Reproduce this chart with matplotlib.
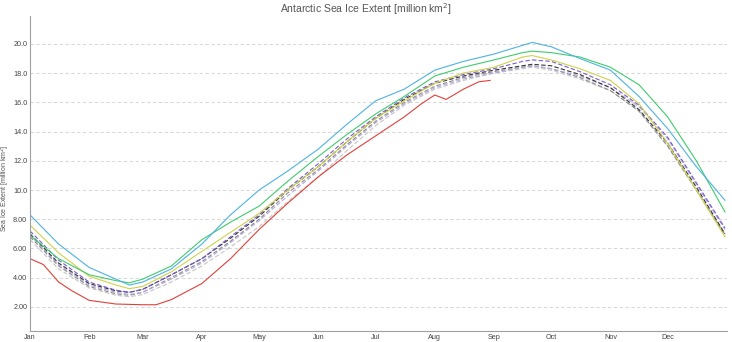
import matplotlib
matplotlib.use("Agg")
import matplotlib.pyplot as plt

# ---- data (day of year, sea ice extent in million km^2) ----
days = [0, 15, 31, 45, 52, 59, 74, 90, 105, 120, 135, 151, 166, 181, 196,
        212, 227, 243, 258, 263, 273, 288, 304, 319, 334, 349, 364]

red_days = [0, 7, 15, 22, 31, 45, 59, 66, 74, 90, 105, 120, 135, 151, 166,
            181, 196, 205, 212, 218, 227, 235, 241]
red_vals = [5.3, 4.9, 3.7, 3.1, 2.45, 2.2, 2.15, 2.15, 2.5, 3.6, 5.3, 7.3,
            9.1, 10.9, 12.4, 13.7, 15.0, 15.9, 16.5, 16.2, 16.9, 17.4, 17.5]

blue_vals = [8.3, 6.3, 4.7, 3.9, 3.5, 3.7, 4.6, 6.3, 8.3, 10.0, 11.3, 12.8,
             14.5, 16.1, 16.9, 18.2, 18.8, 19.3, 19.9, 20.1, 19.8, 19.0,
             18.2, 16.4, 14.2, 11.6, 9.3]
green_vals = [6.9, 5.3, 4.2, 3.8, 3.65, 3.9, 4.8, 6.6, 7.8, 8.9, 10.6, 12.3,
              13.8, 15.2, 16.4, 17.8, 18.4, 18.9, 19.4, 19.5, 19.4, 19.1,
              18.4, 17.2, 15.0, 12.0, 8.5]
yellow_vals = [7.6, 5.7, 4.1, 3.5, 3.25, 3.4, 4.4, 5.8, 7.1, 8.4, 10.0, 11.6,
               13.3, 14.9, 16.1, 17.3, 18.0, 18.4, 19.1, 19.2, 18.9, 18.3,
               17.5, 15.9, 13.2, 10.0, 6.8]
purple_vals = [7.2, 5.2, 3.7, 3.15, 3.0, 3.2, 4.2, 5.3, 6.8, 8.3, 10.1, 11.8,
               13.5, 15.0, 16.3, 17.4, 17.9, 18.3, 18.8, 18.9, 18.8, 18.1,
               17.2, 15.8, 13.6, 10.5, 7.4]
lavender_vals = [6.9, 4.9, 3.5, 3.0, 2.85, 3.0, 3.9, 5.0, 6.4, 7.9, 9.6, 11.3,
                 13.0, 14.6, 15.9, 17.0, 17.6, 18.0, 18.4, 18.5, 18.3, 17.8,
                 17.0, 15.7, 13.5, 10.4, 7.3]
black_vals = [7.0, 5.0, 3.6, 3.1, 3.0, 3.2, 4.2, 5.3, 6.7, 8.2, 10.0, 11.6,
              13.3, 14.9, 16.2, 17.3, 17.8, 18.2, 18.5, 18.6, 18.5, 17.9,
              17.0, 15.5, 13.2, 10.2, 7.0]
gray_vals = [6.8, 4.8, 3.4, 2.9, 2.8, 3.0, 4.0, 5.1, 6.5, 8.0, 9.8, 11.4,
             13.1, 14.7, 16.0, 17.1, 17.7, 18.1, 18.4, 18.5, 18.3, 17.7,
             16.8, 15.4, 13.0, 10.0, 6.9]
lightgray_vals = [6.6, 4.6, 3.3, 2.8, 2.7, 2.85, 3.7, 4.8, 6.1, 7.5, 9.2, 10.9,
                  12.7, 14.4, 15.8, 16.9, 17.5, 18.0, 18.3, 18.4, 18.2, 17.6,
                  16.8, 15.4, 13.0, 10.0, 7.0]

month_starts = [0, 31, 59, 90, 120, 151, 181, 212, 243, 273, 304, 334]
month_labels = ["Jan", "Feb", "Mar", "Apr", "May", "Jun", "Jul", "Aug",
                "Sep", "Oct", "Nov", "Dec"]
y_ticks = [2, 4, 6, 8, 10, 12, 14, 16, 18, 20]
y_tick_labels = ["2.00", "4.00", "6.00", "8.00", "10.0", "12.0", "14.0",
                 "16.0", "18.0", "20.0"]

plt.rcParams['font.family'] = ['Liberation Sans', 'DejaVu Sans']

fig = plt.figure(figsize=(7.32, 3.42), dpi=100)
ax = fig.add_axes([0.041, 0.032, 0.952, 0.921])

lw = 0.8
ax.plot(days, lightgray_vals, color="#c4c4c4", lw=lw, ls=(0, (4, 2)))
ax.plot(days, gray_vals, color="#8c8c8c", lw=lw, ls=(0, (4, 2)))
ax.plot(days, lavender_vals, color="#b4a6e0", lw=lw, ls=(0, (4, 2)))
ax.plot(days, black_vals, color="#333333", lw=lw, ls=(0, (4, 2)))
ax.plot(days, purple_vals, color="#7a5ccc", lw=lw, ls=(0, (4, 2)))
ax.plot(days, yellow_vals, color="#cfd24a", lw=lw)
ax.plot(days, green_vals, color="#3fcc6c", lw=lw)
ax.plot(days, blue_vals, color="#4fb2e2", lw=lw)
ax.plot(red_days, red_vals, color="#e0403a", lw=lw)

ax.set_xlim(0, 365)
ax.set_ylim(0.35, 21.9)
ax.set_yticks(y_ticks)
ax.set_yticklabels(y_tick_labels)
ax.set_xticks(month_starts)
ax.set_xticklabels(month_labels)
ax.tick_params(axis="both", length=0, labelsize=5.2, colors="#444444", pad=2)
ax.grid(axis="y", color="#d0d0d0", ls=(0, (4, 3)), lw=0.6)
ax.set_axisbelow(True)
for s in ["top", "right"]:
    ax.spines[s].set_visible(False)
for s in ["left", "bottom"]:
    ax.spines[s].set_color("#a0a0a0")
    ax.spines[s].set_linewidth(0.8)

fig.text(0.0075, 0.45, "Sea Ice Extent [million km$^2$]", rotation=90,
         ha="center", va="center", fontsize=5.0, color="#555555")
fig.text(0.5, 0.972, "Antarctic Sea Ice Extent [million km$^2$]", ha="center",
         va="center", fontsize=7.5, color="#555555")

fig.savefig("out.png", dpi=100)
